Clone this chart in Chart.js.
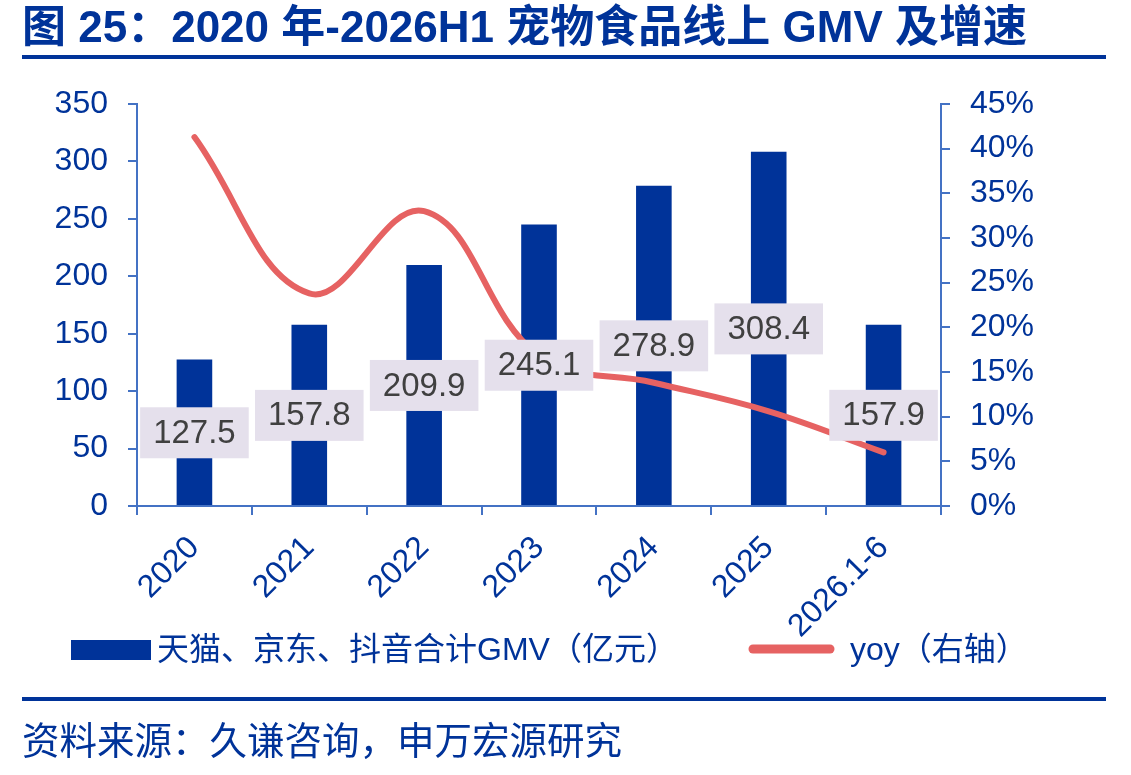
<!DOCTYPE html>
<html>
<head>
<meta charset="utf-8">
<script src="https://cdn.jsdelivr.net/npm/chart.js@4"></script>
<style>
  body { margin: 0; background: #fff; }
  #wrap { position: relative; width: 1131px; height: 775px; overflow: hidden; }
  #chart { position: absolute; left: 0; top: 0; }
  .txt { position: absolute; color: #003399; white-space: nowrap;
         font-family: 'Liberation Sans', 'Noto Sans CJK SC', sans-serif; }
  #title { left: 22px; top: 1px; font-size: 44px; font-weight: bold; line-height: 52px; }
  #source { left: 22px; top: 718px; font-size: 37.5px; line-height: 46px; }
  .rule { position: absolute; left: 22px; width: 1084px; height: 4px; background: #003399; }
</style>
</head>
<body>
<div id="wrap">
  <canvas id="chart" width="1131" height="775"></canvas>
  <div class="txt" id="title">图 25：2020 年-2026H1 宠物食品线上 GMV 及增速</div>
  <div class="rule" style="top:55px"></div>
  <div class="rule" style="top:697px"></div>
  <div class="txt" id="source">资料来源：久谦咨询，申万宏源研究</div>
</div>
<script>
// data
var categories = ['2020', '2021', '2022', '2023', '2024', '2025', '2026.1-6'];
var gmv_values = [127.5, 157.8, 209.9, 245.1, 278.9, 308.4, 157.9];
var yoy_values = [41.3, 23.8, 33.0, 16.8, 13.8, 10.6, 6.0];
var gmv_label = '天猫、京东、抖音合计GMV（亿元）';
var yoy_label = 'yoy（右轴）';

var font_family = "'Liberation Sans', 'Noto Sans CJK SC', sans-serif";
var blue = '#003399';
var axis_blue = '#4472C4';
var red = '#E66262';

// value boxes in the middle of each bar
var bar_labels = {
	id: 'bar_labels',
	afterDatasetsDraw: function(chart) {
		var ctx = chart.ctx;
		var meta = chart.getDatasetMeta(0);
		var y_scale = chart.scales.y;
		ctx.save();
		ctx.font = '33px ' + font_family;
		ctx.textAlign = 'center';
		ctx.textBaseline = 'middle';
		meta.data.forEach(function(bar, i) {
			var v = chart.data.datasets[0].data[i];
			var txt = v.toFixed(1);
			var cy = y_scale.getPixelForValue(v / 2);
			var w = ctx.measureText(txt).width + 26;
			ctx.fillStyle = '#E5E0EC';
			ctx.fillRect(bar.x - w / 2, cy - 25.5, w, 51);
			ctx.fillStyle = '#404040';
			ctx.fillText(txt, bar.x, cy + 1);
		});
		ctx.restore();
	}
};

// legend under the axis
var bottom_legend = {
	id: 'bottom_legend',
	afterDraw: function(chart) {
		var ctx = chart.ctx;
		var ds = chart.data.datasets;
		ctx.save();
		ctx.fillStyle = ds[0].backgroundColor;
		ctx.fillRect(71, 640, 80, 20);
		ctx.strokeStyle = ds[1].borderColor;
		ctx.lineWidth = 9;
		ctx.lineCap = 'round';
		ctx.beginPath();
		ctx.moveTo(753, 649);
		ctx.lineTo(830, 649);
		ctx.stroke();
		ctx.font = '32px ' + font_family;
		ctx.fillStyle = blue;
		ctx.textBaseline = 'middle';
		ctx.fillText(ds[0].label, 157, 651);
		ctx.fillText(ds[1].label, 850, 651);
		ctx.restore();
	}
};

var ctx = document.getElementById('chart');
var chart = new Chart(ctx, {
	type: 'bar',
	data: {
		labels: categories,
		datasets: [{
			label: gmv_label,
			data: gmv_values,
			backgroundColor: blue,
			barPercentage: 0.31,
			categoryPercentage: 1,
			yAxisID: 'y',
			order: 1
		}, {
			type: 'line',
			label: yoy_label,
			data: yoy_values,
			borderColor: red,
			borderWidth: 6,
			borderCapStyle: 'round',
			tension: 0.4,
			pointRadius: 0,
			yAxisID: 'y1',
			order: 0
		}]
	},
	options: {
		responsive: false,
		animation: false,
		devicePixelRatio: 1,
		layout: { padding: { top: 104, left: 0, right: 0, bottom: 0 } },
		plugins: { legend: { display: false }, tooltip: { enabled: false } },
		scales: {
			x: {
				offset: true,
				grid: { offset: true, drawOnChartArea: false, drawTicks: true, tickLength: 9, color: axis_blue, lineWidth: 2 },
				border: { display: true, color: axis_blue, width: 2 },
				ticks: { color: blue, font: { size: 32, family: font_family }, minRotation: 45, maxRotation: 45, padding: 14 },
				afterFit: function(s) { s.height = 269; }
			},
			y: {
				position: 'left',
				min: 0, max: 350,
				grid: { drawOnChartArea: false, drawTicks: true, tickLength: 9, color: axis_blue, lineWidth: 2 },
				border: { display: true, color: axis_blue, width: 2 },
				ticks: { stepSize: 50, color: blue, font: { size: 32, family: font_family }, padding: 20 },
				afterFit: function(s) { s.width = 137; }
			},
			y1: {
				position: 'right',
				min: 0, max: 45,
				grid: { drawOnChartArea: false, drawTicks: true, tickLength: 9, color: axis_blue, lineWidth: 2 },
				border: { display: true, color: axis_blue, width: 2 },
				ticks: { stepSize: 5, color: blue, font: { size: 32, family: font_family }, padding: 20,
					callback: function(v) { return v + '%'; } },
				afterFit: function(s) { s.width = 190; }
			}
		}
	},
	plugins: [bar_labels, bottom_legend]
});
</script>
</body>
</html>
